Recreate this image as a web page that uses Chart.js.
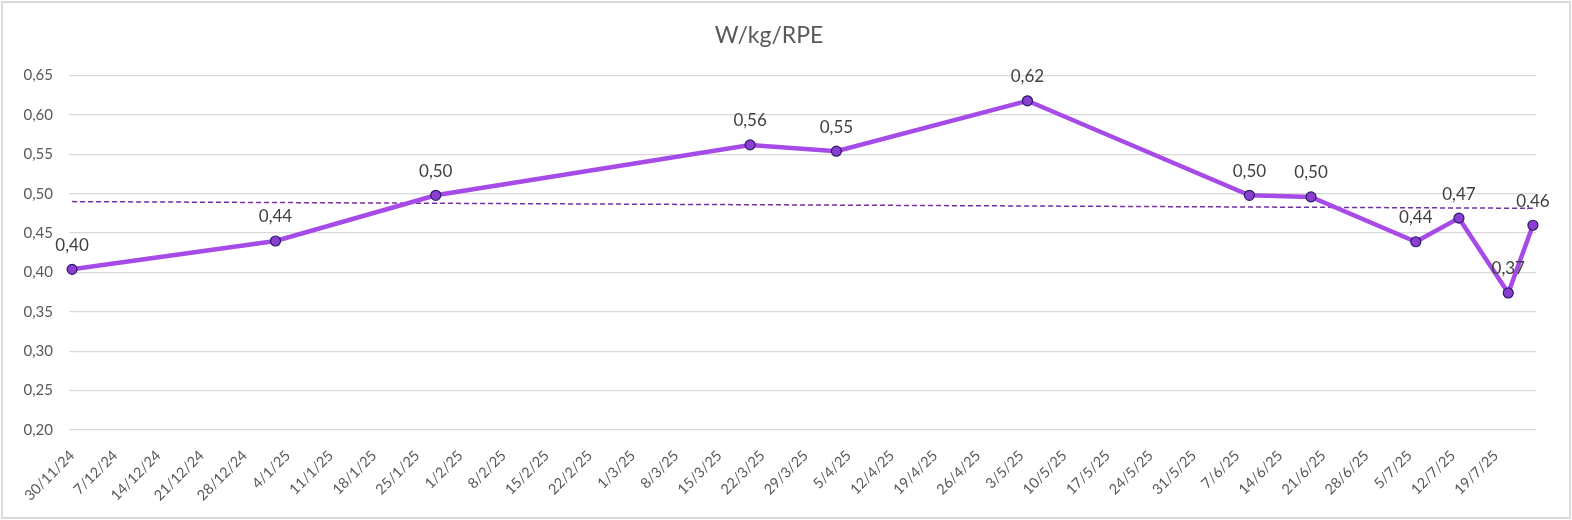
<!DOCTYPE html>
<html>
<head>
<meta charset="utf-8">
<title>W/kg/RPE</title>
<script src="https://cdn.jsdelivr.net/npm/chart.js@4.4.1/dist/chart.umd.min.js"></script>
<style>
  html, body { margin: 0; padding: 0; background: #fff; }
  #wrap { position: relative; width: 1572px; height: 520px; }
  #frame { position: absolute; left: 1px; top: 1px; width: 1566px; height: 514px;
           border: 2px solid #d9d9d9; pointer-events: none; }
</style>
</head>
<body>
<div id="wrap">
  <canvas id="chart" width="1572" height="520"></canvas>
  <div id="frame"></div>
</div>
<script>
// data
const dates = ['30/11/24', '2/1/25', '28/1/25', '20/3/25', '3/4/25', '4/5/25',
               '9/6/25', '19/6/25', '6/7/25', '13/7/25', '21/7/25', '25/7/25'];
const values = [0.404, 0.440, 0.498, 0.562, 0.554, 0.618,
                0.498, 0.496, 0.439, 0.469, 0.374, 0.460];

// linear trendline, ends
const trendDates = ['30/11/24', '25/7/25'];
const trendValues = [0.490, 0.4815];

const tickLabels = ['30/11/24', '7/12/24', '14/12/24', '21/12/24', '28/12/24', '4/1/25',
  '11/1/25', '18/1/25', '25/1/25', '1/2/25', '8/2/25', '15/2/25', '22/2/25', '1/3/25',
  '8/3/25', '15/3/25', '22/3/25', '29/3/25', '5/4/25', '12/4/25', '19/4/25', '26/4/25',
  '3/5/25', '10/5/25', '17/5/25', '24/5/25', '31/5/25', '7/6/25', '14/6/25', '21/6/25',
  '28/6/25', '5/7/25', '12/7/25', '19/7/25'];

const yTicks = { min: 0.20, max: 0.65, step: 0.05 };

// day number counted from the first date
function toDay(s) {
  const p = s.split('/').map(Number);
  const t = Date.UTC(2000 + p[2], p[1] - 1, p[0]);
  const t0 = Date.UTC(2024, 10, 30);
  return Math.round((t - t0) / 86400000);
}

const tickDays = tickLabels.map(toDay);
const labelByDay = {};
tickDays.forEach((d, i) => { labelByDay[d] = tickLabels[i]; });

const points = dates.map((d, i) => ({ x: toDay(d), y: values[i] }));
const trend = trendDates.map((d, i) => ({ x: toDay(d), y: trendValues[i] }));
const lastDay = toDay(dates[dates.length - 1]);

const fmt = v => v.toFixed(2).replace('.', ',');

const valueLabels = {
  id: 'valueLabels',
  afterDatasetsDraw(chart) {
    const ctx = chart.ctx;
    const meta = chart.getDatasetMeta(0);
    ctx.save();
    ctx.font = '17px Lato';
    ctx.fillStyle = '#404040';
    ctx.textAlign = 'center';
    ctx.textBaseline = 'middle';
    meta.data.forEach((pt, i) => {
      ctx.fillText(fmt(values[i]), pt.x, pt.y - 24);
    });
    ctx.restore();
  }
};

Chart.defaults.font.family = 'Lato';
Chart.defaults.color = '#595959';

new Chart(document.getElementById('chart').getContext('2d'), {
  type: 'line',
  data: {
    datasets: [{
      label: 'W/kg/RPE',
      data: points,
      borderColor: '#a64be8',
      borderWidth: 4.5,
      pointRadius: 5,
      pointBackgroundColor: '#8a3fd1',
      pointBorderColor: '#2b1b6b',
      pointBorderWidth: 1.2,
      tension: 0,
      clip: false
    }, {
      label: 'Trend',
      data: trend,
      borderColor: '#7030a0',
      borderWidth: 1.5,
      borderDash: [5, 3],
      pointRadius: 0,
      tension: 0,
      clip: false
    }]
  },
  options: {
    responsive: false,
    animation: false,
    devicePixelRatio: 1,
    layout: { padding: { left: 2, right: 36, top: 0, bottom: 8 } },
    plugins: {
      legend: { display: false },
      tooltip: { enabled: false },
      title: {
        display: true,
        text: 'W/kg/RPE',
        color: '#595959',
        font: { size: 23, weight: 'normal', lineHeight: 1.2 },
        padding: { top: 22, bottom: 26 }
      }
    },
    scales: {
      x: {
        type: 'linear',
        min: -0.5,
        max: lastDay + 0.5,
        afterBuildTicks: scale => { scale.ticks = tickDays.map(v => ({ value: v })); },
        afterFit: scale => { scale.height = 82; },
        grid: { display: false, drawTicks: false },
        border: { display: false },
        ticks: {
          autoSkip: false,
          maxRotation: 45,
          minRotation: 45,
          padding: 17,
          font: { size: 14.5 },
          color: '#595959',
          callback: v => labelByDay[v] || ''
        }
      },
      y: {
        min: yTicks.min,
        max: yTicks.max,
        afterFit: scale => { scale.width = 67; },
        grid: { color: '#d9d9d9', lineWidth: 1.3, drawTicks: false },
        border: { display: false },
        ticks: {
          stepSize: yTicks.step,
          padding: 16,
          font: { size: 15 },
          color: '#595959',
          callback: v => fmt(v)
        }
      }
    }
  },
  plugins: [valueLabels]
});
</script>
</body>
</html>
